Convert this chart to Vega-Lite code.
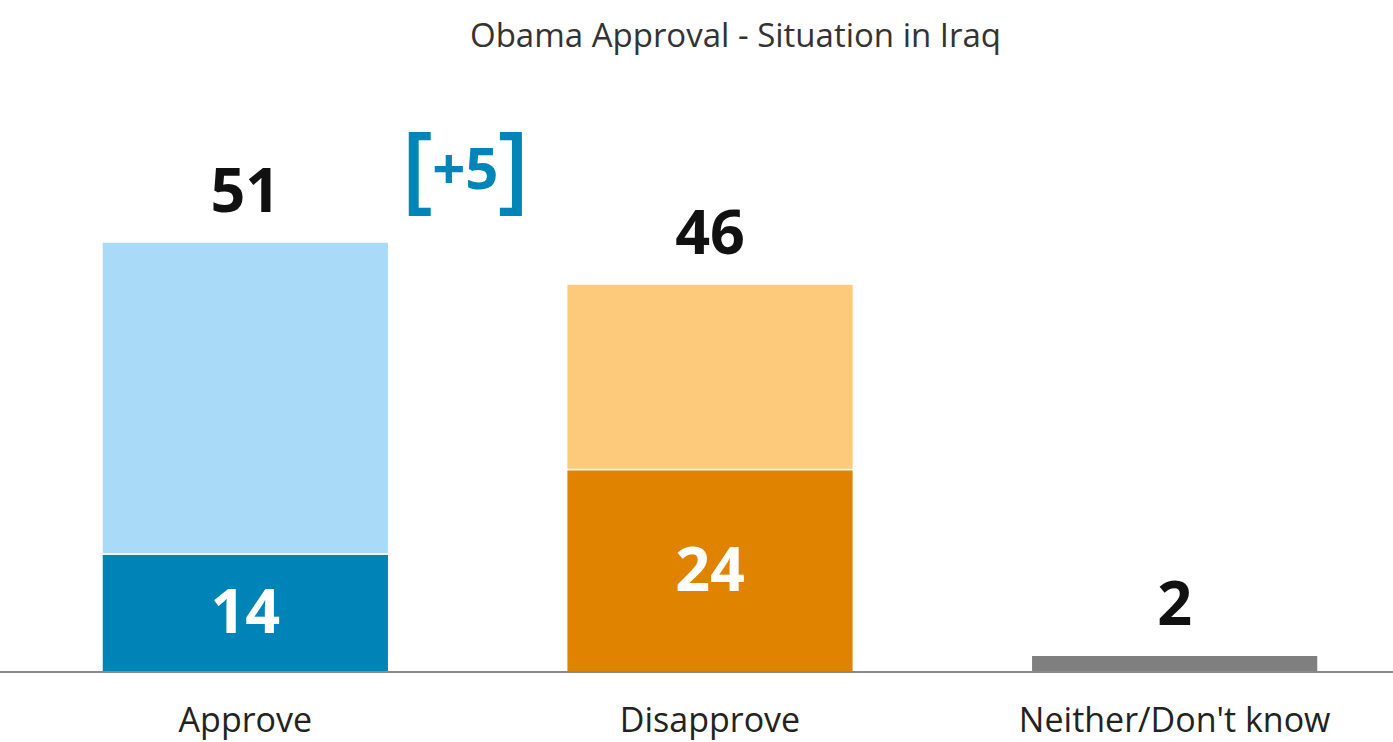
{
  "$schema": "https://vega.github.io/schema/vega-lite/v6.json",
  "autosize": {"type": "none"},
  "padding": {"left": 0, "right": 0, "top": 80, "bottom": 70},
  "width": 1393,
  "height": 592,
  "background": "white",
  "title": {
    "text": "Obama Approval - Situation in Iraq",
    "font": "Open Sans",
    "fontSize": 33,
    "fontWeight": "normal",
    "color": "#333333",
    "anchor": "middle",
    "baseline": "alphabetic",
    "offset": 32,
    "dx": 39,
    "dy": 32
  },
  "config": {"view": {"stroke": null}},
  "data": {
    "values": [
      {"category": "Approve", "segment": "Approve strong", "rank": 1, "value": 14},
      {"category": "Approve", "segment": "Approve other", "rank": 2, "value": 37},
      {"category": "Disapprove", "segment": "Disapprove strong", "rank": 1, "value": 24},
      {"category": "Disapprove", "segment": "Disapprove other", "rank": 2, "value": 22},
      {"category": "Neither/Don't know", "segment": "Neither", "rank": 1, "value": 2}
    ]
  },
  "encoding": {
    "x": {
      "field": "category",
      "type": "nominal",
      "sort": null,
      "scale": {"range": [102, 1318], "paddingInner": 0.383, "paddingOuter": 0},
      "axis": {
        "title": null,
        "domain": false,
        "ticks": false,
        "labelAngle": 0,
        "labelFont": "Open Sans",
        "labelFontSize": 34,
        "labelLimit": 600,
        "labelColor": "#222222",
        "labelPadding": 32
      }
    }
  },
  "layer": [
    {
      "mark": {"type": "bar", "stroke": "white", "strokeWidth": 1.5},
      "encoding": {
        "y": {
          "field": "value",
          "type": "quantitative",
          "stack": "zero",
          "scale": {"domain": [0, 70.2], "nice": false},
          "axis": null
        },
        "order": {"field": "rank", "type": "ordinal"},
        "color": {
          "field": "segment",
          "type": "nominal",
          "legend": null,
          "scale": {
            "domain": ["Approve strong", "Approve other", "Disapprove strong", "Disapprove other", "Neither"],
            "range": ["#0083B6", "#A9DBF8", "#E08300", "#FDC97B", "#7F7F7F"]
          }
        }
      }
    },
    {
      "mark": {"type": "rule", "color": "#8a8a8a", "strokeWidth": 2},
      "encoding": {"y": {"datum": 0, "type": "quantitative"}, "x": {}}
    },
    {
      "transform": [
        {"aggregate": [{"op": "sum", "field": "value", "as": "total"}], "groupby": ["category"]}
      ],
      "mark": {"type": "text", "font": "Open Sans", "fontWeight": "bold", "fontSize": 61, "color": "#111111", "baseline": "alphabetic", "dy": -30},
      "encoding": {
        "y": {"field": "total", "type": "quantitative"},
        "text": {"field": "total", "type": "quantitative"}
      }
    },
    {
      "transform": [
        {"filter": "datum.rank == 1 && datum.category != 'Neither/Don\\'t know'"},
        {"calculate": "datum.value / 2", "as": "mid"}
      ],
      "mark": {"type": "text", "font": "Open Sans", "fontWeight": "bold", "fontSize": 61, "color": "white", "baseline": "middle", "dy": 2},
      "encoding": {
        "y": {"field": "mid", "type": "quantitative"},
        "text": {"field": "value", "type": "quantitative"}
      }
    },
    {
      "data": {"values": [{"category": "Approve", "label": "+5", "pos": 59.3}]},
      "mark": {"type": "text", "font": "Open Sans", "fontWeight": "bold", "fontSize": 58, "color": "#0085B8", "baseline": "middle", "dx": 220},
      "encoding": {
        "y": {"field": "pos", "type": "quantitative"},
        "text": {"field": "label"}
      }
    },
    {
      "data": {"values": [{"category": "Approve", "label": "[", "pos": 59.3}]},
      "mark": {"type": "text", "font": "Open Sans", "fontWeight": 600, "fontSize": 96, "color": "#0085B8", "baseline": "middle", "dx": 172},
      "encoding": {
        "y": {"field": "pos", "type": "quantitative"},
        "text": {"field": "label"}
      }
    },
    {
      "data": {"values": [{"category": "Approve", "label": "]", "pos": 59.3}]},
      "mark": {"type": "text", "font": "Open Sans", "fontWeight": 600, "fontSize": 96, "color": "#0085B8", "baseline": "middle", "dx": 268},
      "encoding": {
        "y": {"field": "pos", "type": "quantitative"},
        "text": {"field": "label"}
      }
    }
  ]
}
